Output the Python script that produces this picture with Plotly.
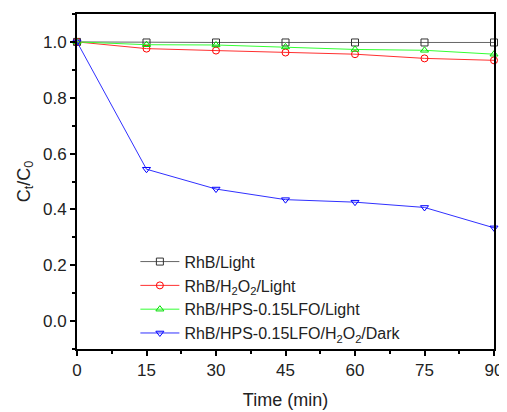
import plotly.graph_objects as go

time_min = [0, 15, 30, 45, 60, 75, 90]
rhb_light = [1.0, 0.998, 0.998, 0.998, 0.998, 0.998, 0.998]
rhb_h2o2_light = [1.0, 0.976, 0.969, 0.962, 0.956, 0.941, 0.934]
rhb_hps_light = [1.0, 0.990, 0.989, 0.982, 0.973, 0.970, 0.956]
rhb_hps_h2o2_dark = [1.0, 0.544, 0.473, 0.435, 0.426, 0.407, 0.334]

names = ["RhB/Light", "RhB/H<sub>2</sub>O<sub>2</sub>/Light",
         "RhB/HPS-0.15LFO/Light", "RhB/HPS-0.15LFO/H<sub>2</sub>O<sub>2</sub>/Dark"]
series = [rhb_light, rhb_h2o2_light, rhb_hps_light, rhb_hps_h2o2_dark]
colors = ["#333333", "#ff0000", "#00dd00", "#0000ff"]
line_colors = ["#666666", "#ff3030", "#33ff33", "#3030ff"]
symbols = ["square-open", "circle-open", "triangle-up-open", "triangle-down-open"]

FONT = "Liberation Sans, Arial, sans-serif"

fig = go.Figure()
for n, s, c, lc, sym in zip(names, series, colors, line_colors, symbols):
    fig.add_trace(go.Scatter(
        x=time_min, y=s, name=n, mode="lines+markers",
        line=dict(color=lc, width=1),
        marker=dict(symbol=sym, size=7, color=c, line=dict(color=c, width=1)),
        cliponaxis=False,
    ))

axis_common = dict(
    showline=True, linecolor="black", linewidth=2, mirror=True,
    ticks="outside", ticklen=5, tickwidth=1.5, tickcolor="black",
    showgrid=False, zeroline=False, automargin=False,
    tickfont=dict(family=FONT, size=17, color="#222"),
)

# page body has an 8px default margin, so the figure is offset by 8px
fig.update_layout(
    width=499, height=404,
    margin=dict(l=69, r=13, t=6, b=63),
    paper_bgcolor="white", plot_bgcolor="white",
    font=dict(family=FONT, color="#222"),
    xaxis=dict(range=[0, 90], tickvals=[0, 15, 30, 45, 60, 75, 90],
               minor=dict(tickvals=[7.5, 22.5, 37.5, 52.5, 67.5, 82.5], ticks="outside",
                          ticklen=3, tickcolor="black", tickwidth=1.5),
               title=dict(text="Time (min)", font=dict(family=FONT, size=18), standoff=14),
               **axis_common),
    yaxis=dict(range=[-0.1, 1.1], tickvals=[0.0, 0.2, 0.4, 0.6, 0.8, 1.0],
               ticktext=["0.0", "0.2", "0.4", "0.6", "0.8", "1.0"],
               minor=dict(tickvals=[-0.1, 0.1, 0.3, 0.5, 0.7, 0.9, 1.1], ticks="outside",
                          ticklen=3, tickcolor="black", tickwidth=1.5),
               title=dict(text="C<sub>t</sub>/C<sub>0</sub>", font=dict(family=FONT, size=18), standoff=8),
               **axis_common),
    legend=dict(x=0.14, y=-0.005, xanchor="left", yanchor="bottom",
                bgcolor="rgba(0,0,0,0)", font=dict(family=FONT, size=16, color="#222"),
                tracegroupgap=0, itemwidth=39),
)

fig.write_html("out.html")
